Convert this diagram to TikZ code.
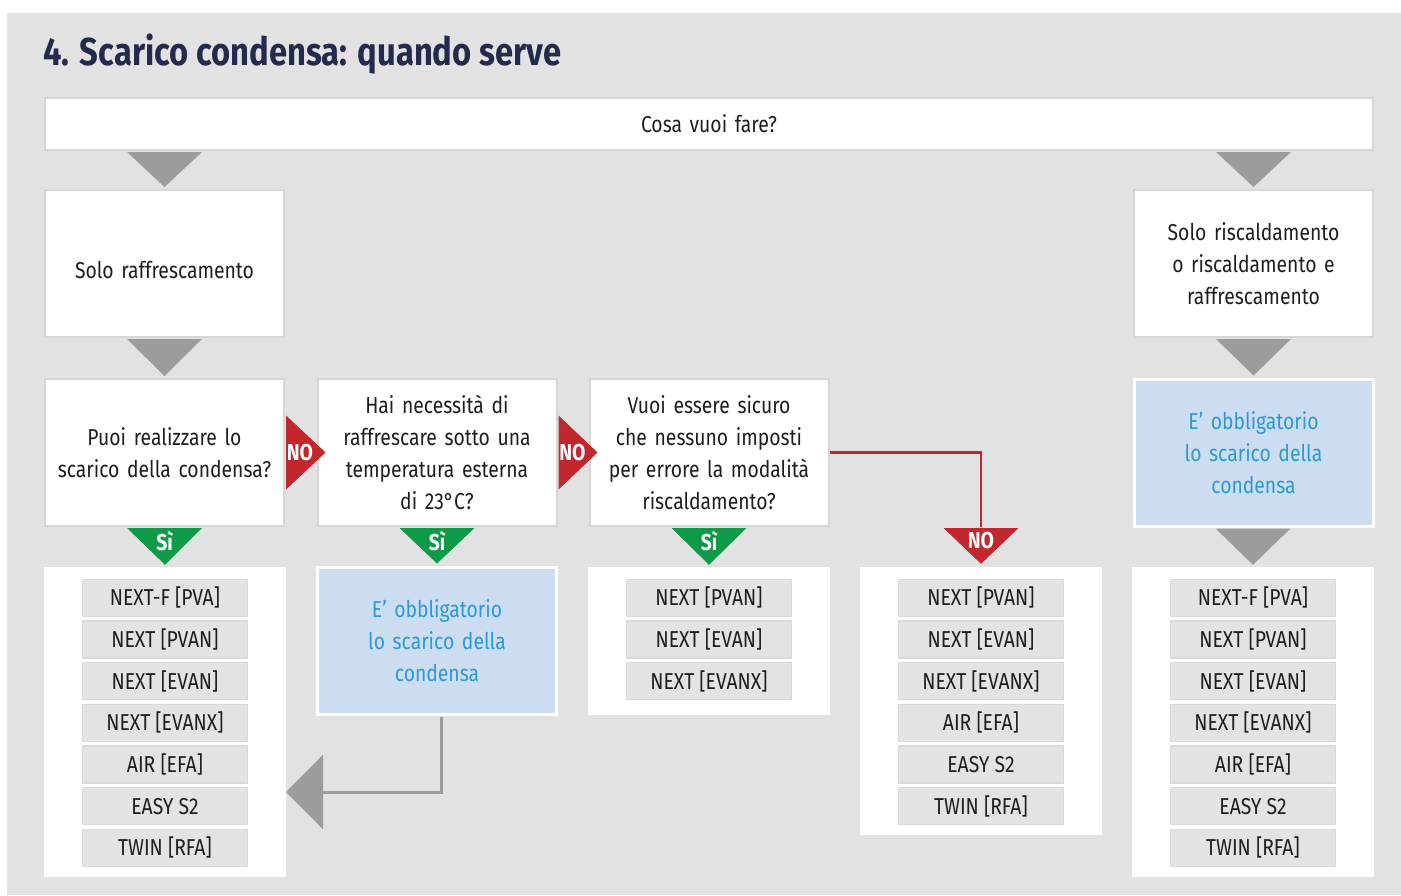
\documentclass[tikz,border=0pt]{standalone}
\usepackage{fontspec}
\setmainfont{Fira Sans}[FakeStretch=0.84]
\usetikzlibrary{calc,positioning,arrows.meta}
\definecolor{bg}{HTML}{E2E2E2}
\definecolor{boxline}{HTML}{D6D6D6}
\definecolor{arrowgray}{HTML}{9C9C9C}
\definecolor{nored}{HTML}{C1272D}
\definecolor{sigreen}{HTML}{0F9A48}
\definecolor{navy}{HTML}{232A4E}
\definecolor{bluefill}{HTML}{CCDDF2}
\definecolor{bluetext}{HTML}{2A9AD6}
\definecolor{itemfill}{HTML}{E3E3E3}
\definecolor{itemline}{HTML}{D9D9D9}
\definecolor{ink}{HTML}{1E1E1E}
\tikzset{
  title/.style = {text=navy, font=\fontsize{39}{44}\bfseries\selectfont, anchor=west, inner sep=0},
  box/.style = {draw=boxline, line width=2, fill=white, minimum width=239, minimum height=147, inner sep=0, text width=236, align=center, text=ink, font=\fontsize{23}{32}\selectfont},
  obbl/.style = {box, draw=white, line width=3, fill=bluefill, text=bluetext},
  prod/.style = {fill=white, minimum width=242, inner sep=0},
  item/.style = {draw=itemline, line width=1.5, fill=itemfill, minimum width=165, minimum height=37, inner sep=0, text=ink, font=\fontsize{23}{25}\selectfont},
  flag/.style = {text=white, font=\fontsize{23}{25}\bfseries\selectfont, inner sep=0},
  elbow/.style = {draw=arrowgray, line width=3, -{Triangle[length=37pt,width=74pt]}}
}
\begin{document}
\begin{tikzpicture}[x=1pt,y=-1pt]
  \useasboundingbox (0,0) rectangle (1401,895);
  \fill[bg] (7,13) rectangle (1401,895);
  \node[title] (titolo) at (43,54) {4. Scarico condensa: quando serve};

  % domande
  \node[box, minimum width=1328, minimum height=52, text width=1300] (scelta) at (709,124) {Cosa vuoi fare?};
  \node[box] (raffr) at (164.5,263.5) {\rule{0pt}{30pt}Solo raffrescamento};
  \node[box] (risc) at (1253.5,263.5) {Solo riscaldamento\\o riscaldamento e\\raffrescamento};
  \node[box] (scarico) at (164.5,452.5) {Puoi realizzare lo\\scarico della condensa?};
  \node[box] (sotto) at (437,452.5) {Hai necessità di\\raffrescare sotto una\\temperatura esterna\\di 23°C?};
  \node[box] (sicuro) at (709,452.5) {Vuoi essere sicuro\\che nessuno imposti\\per errore la modalità\\riscaldamento?};
  \node[obbl] (obblR) at (1253.5,452.5) {E’ obbligatorio\\lo scarico della\\condensa};
  \node[obbl] (obblC) at (437,640.5) {E’ obbligatorio\\lo scarico della\\condensa};

  % prodotti
  \node[prod, minimum height=310] (prodA) at (165,722) {};
  \node[prod, minimum height=148] (prodC) at (709,641) {};
  \node[prod, minimum height=268] (prodD) at (981,701) {};
  \node[prod, minimum height=310] (prodE) at (1253,722) {};
  \foreach \m [count=\i] in {{NEXT-F [PVA]},{NEXT [PVAN]},{NEXT [EVAN]},{NEXT [EVANX]},{AIR [EFA]},{EASY S2},{TWIN [RFA]}}{
    \node[item] (a\i) at ($(prodA.north)+(0,31+41.67*\i-41.67)$) {\m};
    \node[item] (e\i) at ($(prodE.north)+(0,31+41.67*\i-41.67)$) {\m};
  }
  \foreach \m [count=\i] in {{NEXT [PVAN]},{NEXT [EVAN]},{NEXT [EVANX]}}{
    \node[item] (c\i) at ($(prodC.north)+(0,31+41.67*\i-41.67)$) {\m};
  }
  \foreach \m [count=\i] in {{NEXT [PVAN]},{NEXT [EVAN]},{NEXT [EVANX]},{AIR [EFA]},{EASY S2},{TWIN [RFA]}}{
    \node[item] (d\i) at ($(prodD.north)+(0,31+41.67*\i-41.67)$) {\m};
  }

  % frecce grigie
  \foreach \a/\b in {scelta/raffr,raffr/scarico,scelta/risc,risc/obblR,obblR/prodE}{
    \fill[arrowgray] ($(\a.south -| \b.north)+(-37.5,1)$) -- ++(75,0) -- ($(\b.north)+(0,-2)$) -- cycle;
  }
  \coordinate (ritorno) at (286,792);
  \draw[elbow] ($(obblC.south)+(4,1)$) |- (ritorno);

  % si
  \foreach \a/\b in {scarico/prodA,sotto/obblC,sicuro/prodC}{
    \fill[sigreen] ($(\a.south)+(-37.5,1)$) -- ++(75,0) -- ($(\b.north)+(0,-2)$) -- cycle;
    \node[flag] (si-\a) at ($(\a.south)+(0,14)$) {Sì};
  }

  % no
  \foreach \a/\b in {scarico/sotto,sotto/sicuro}{
    \fill[nored] ($(\a.east)+(1,-37)$) -- ($(\a.east)+(1,37)$) -- ($(\b.west)+(9,0)$) -- cycle;
    \node[flag] (no-\a) at ($(\a.east)+(15,0)$) {NO};
  }
  \coordinate (nobase) at (sicuro.south -| prodD.north);
  \draw[nored, line width=2.5] (sicuro.east) -| (nobase);
  \fill[nored] ($(nobase)+(-37.5,1)$) -- ++(75,0) -- ($(prodD.north)+(0,-3)$) -- cycle;
  \node[flag] (no-sicuro) at ($(nobase)+(0,14)$) {NO};
\end{tikzpicture}
\end{document}
